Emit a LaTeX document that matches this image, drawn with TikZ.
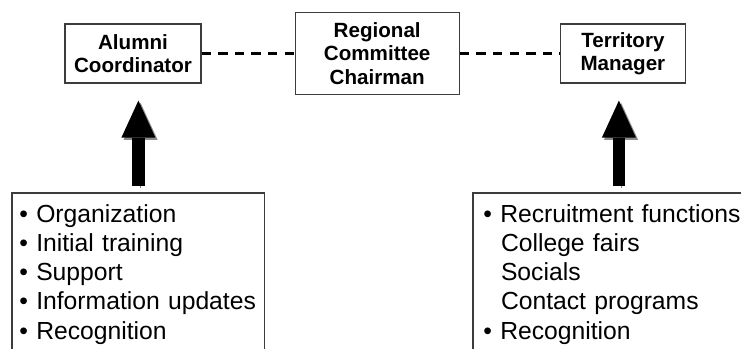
\documentclass[tikz,border=0pt]{standalone}
\usepackage{fontspec}
\setmainfont{Liberation Sans}
\usepackage{tikz}
\usetikzlibrary{arrows.meta,positioning}
\definecolor{Frame}{HTML}{3C3C3C}
\definecolor{Shade}{HTML}{8A8A8A}
\tikzset{
  head/.style={draw=Frame,fill=white,line width=.6pt,align=center,minimum height=29.5pt,inner sep=0pt,font=\fontsize{10.3pt}{11.6pt}\selectfont\bfseries},
  list/.style={align=left,anchor=north west,inner ysep=5.5pt,font=\fontsize{12.35pt}{14.6pt}\selectfont},
  frame/.style={draw=Frame,line width=.6pt},
  link/.style={draw=black,line width=1.25pt,dash pattern=on 4.65pt off 3.65pt},
  uparrow/.style={draw=black,line width=6.15pt,-{Triangle[length=18.5pt,width=17pt,line width=0pt]},shorten <=3.5pt,shorten >=8.5pt,
    preaction={draw=Shade,transform canvas={shift={(1.1pt,-1.1pt)}}}}
}
\begin{document}
\begin{tikzpicture}[x=.5pt,y=-.5pt]
  \useasboundingbox (0,0) rectangle (741,349);
  \clip (0,0) rectangle (741,349);
  \node[head,minimum width=68pt] (alumni) at (133,53.5) {Alumni\\Coordinator};
  \node[head,minimum width=82pt,minimum height=41pt,right=46.5pt of alumni] (chair) {Regional\\Committee\\Chairman};
  \node[head,minimum width=62.5pt,right=50pt of chair] (territory) {Territory\\Manager};
  \draw[link] (alumni) -- (chair);
  \draw[link] (chair) -- (territory);
  \node[list,inner xsep=3.5pt,text width=119pt] (alist) at (12,193) {%
    \textbullet\ Organization\\
    \textbullet\ Initial training\\
    \textbullet\ Support\\
    \textbullet\ Information updates\\
    \textbullet\ Recognition};
  \node[list,inner xsep=5pt,text width=135.5pt] (tlist) at (473,193) {%
    \textbullet\ Recruitment functions\\
    \hspace*{8.8pt}College fairs\\
    \hspace*{8.8pt}Socials\\
    \hspace*{8.8pt}Contact programs\\
    \textbullet\ Recognition};
  \draw[frame] (alist.south west) |- (alist.north east) -- (alist.south east);
  \draw[frame] (tlist.south west) |- (tlist.north east) -- (tlist.south east);
  \draw[uparrow] (alist.north) -- (alist.north |- alumni.south);
  \draw[uparrow] (tlist.north) -- (tlist.north |- territory.south);
\end{tikzpicture}
\end{document}
